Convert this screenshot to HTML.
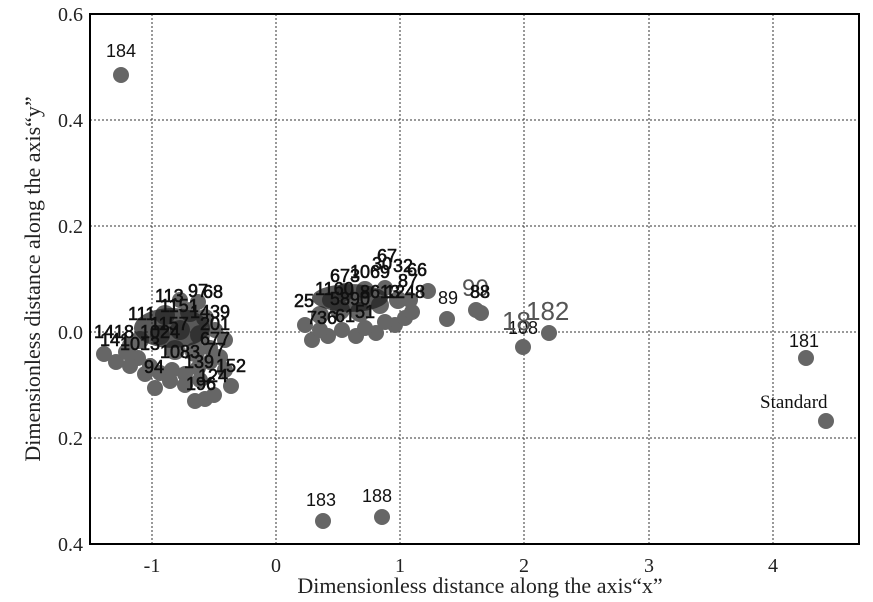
<!DOCTYPE html>
<html><head><style>
html,body{margin:0;padding:0;background:#fff;}
svg{display:block;}
.s{font-family:"Liberation Serif",serif;}
.n{font-family:"Liberation Sans",sans-serif;font-size:18px;fill:#111;}
.d{font-family:"Liberation Sans",sans-serif;font-size:18px;fill:#111;stroke:#111;stroke-width:0.6;}
</style></head><body>
<svg width="873" height="602" viewBox="0 0 873 602" xmlns="http://www.w3.org/2000/svg">
<g stroke="#333" stroke-width="1" stroke-dasharray="2,2">
<line x1="152" y1="14" x2="152" y2="544"/><line x1="276" y1="14" x2="276" y2="544"/>
<line x1="400" y1="14" x2="400" y2="544"/><line x1="524" y1="14" x2="524" y2="544"/>
<line x1="649" y1="14" x2="649" y2="544"/><line x1="773" y1="14" x2="773" y2="544"/>
<line x1="90" y1="120" x2="859" y2="120"/><line x1="90" y1="226" x2="859" y2="226"/>
<line x1="90" y1="332" x2="859" y2="332"/><line x1="90" y1="438" x2="859" y2="438"/>
</g>
<rect x="90" y="14" width="769" height="530" fill="none" stroke="#000" stroke-width="2"/>
<g class="s" font-size="20" fill="#222" text-anchor="end">
<text x="83" y="21">0.6</text><text x="83" y="127">0.4</text><text x="83" y="233">0.2</text>
<text x="83" y="339">0.0</text><text x="83" y="445">0.2</text><text x="83" y="551">0.4</text>
</g>
<g class="s" font-size="20" fill="#222" text-anchor="middle">
<text x="152" y="572">-1</text><text x="276" y="572">0</text><text x="400" y="572">1</text>
<text x="524" y="572">2</text><text x="649" y="572">3</text><text x="773" y="572">4</text>
<text x="480" y="593" font-size="22">Dimensionless distance along the axis“x”</text>
<text transform="translate(40,279) rotate(-90)" font-size="22">Dimensionless distance along the axis“y”</text>
</g>
<g fill="#666">
<circle cx="121" cy="75" r="8"/>
<circle cx="806" cy="358" r="8"/><circle cx="826" cy="421" r="8"/>
<circle cx="323" cy="521" r="8"/><circle cx="382" cy="517" r="8"/>
<circle cx="523" cy="347" r="8"/><circle cx="549" cy="333" r="8"/>
<circle cx="447" cy="319" r="8"/><circle cx="476" cy="310" r="8"/><circle cx="481" cy="313" r="8"/>
<circle cx="428" cy="291" r="8"/>
<circle cx="104" cy="354" r="8"/><circle cx="116" cy="362" r="8"/><circle cx="126" cy="352" r="8"/>
<circle cx="138" cy="358" r="8"/><circle cx="150" cy="366" r="8"/><circle cx="160" cy="373" r="8"/>
<circle cx="172" cy="370" r="8"/><circle cx="185" cy="374" r="8"/><circle cx="198" cy="368" r="8"/>
<circle cx="210" cy="362" r="8"/><circle cx="220" cy="357" r="8"/><circle cx="155" cy="388" r="8"/>
<circle cx="195" cy="401" r="8"/><circle cx="205" cy="399" r="8"/><circle cx="214" cy="395" r="8"/>
<circle cx="231" cy="386" r="8"/><circle cx="185" cy="385" r="8"/><circle cx="170" cy="381" r="8"/>
<circle cx="145" cy="374" r="8"/><circle cx="130" cy="366" r="8"/><circle cx="225" cy="370" r="8"/>
<circle cx="200" cy="380" r="8"/>
<circle cx="140" cy="340" r="9"/><circle cx="160" cy="335" r="10"/><circle cx="180" cy="330" r="10"/>
<circle cx="200" cy="335" r="10"/><circle cx="215" cy="330" r="8"/><circle cx="225" cy="340" r="8"/>
<circle cx="165" cy="315" r="10"/><circle cx="190" cy="312" r="10"/><circle cx="205" cy="318" r="9"/>
<circle cx="175" cy="350" r="10"/><circle cx="195" cy="352" r="10"/><circle cx="210" cy="348" r="8"/>
<circle cx="180" cy="300" r="8"/><circle cx="198" cy="302" r="8"/><circle cx="130" cy="345" r="8"/>
<circle cx="305" cy="325" r="8"/><circle cx="312" cy="340" r="8"/><circle cx="328" cy="336" r="8"/>
<circle cx="342" cy="330" r="8"/><circle cx="356" cy="336" r="8"/><circle cx="376" cy="333" r="8"/>
<circle cx="395" cy="325" r="8"/><circle cx="405" cy="318" r="8"/><circle cx="412" cy="312" r="8"/>
<circle cx="320" cy="330" r="8"/><circle cx="365" cy="328" r="8"/><circle cx="385" cy="322" r="8"/>
<circle cx="410" cy="300" r="8"/>
<circle cx="320" cy="315" r="9"/><circle cx="340" cy="310" r="10"/><circle cx="360" cy="312" r="10"/>
<circle cx="380" cy="305" r="9"/><circle cx="398" cy="300" r="9"/><circle cx="345" cy="292" r="9"/>
<circle cx="365" cy="290" r="9"/><circle cx="385" cy="288" r="8"/><circle cx="330" cy="300" r="8"/>
</g>
<g fill="#222" opacity="0.75">
<ellipse cx="172" cy="328" rx="38" ry="20"/>
<ellipse cx="350" cy="298" rx="38" ry="14"/>
</g>
<g class="n">
<text x="106" y="57">184</text><text x="789" y="347">181</text>
<text x="306" y="506">183</text><text x="362" y="502">188</text>
<text x="438" y="304">89</text><text x="508" y="334">108</text>
</g>
<text x="502" y="330" font-family="Liberation Sans,sans-serif" font-size="26" fill="#555">18</text>
<text x="526" y="320" font-family="Liberation Sans,sans-serif" font-size="26" fill="#555">182</text>
<text x="462" y="296" font-family="Liberation Sans,sans-serif" font-size="24" fill="#555">90</text>
<g class="d">
<text x="470" y="298">88</text>
<text x="216" y="372">152</text><text x="144" y="373">94</text><text x="186" y="390">196</text><text x="198" y="382">124</text>
<text x="184" y="368">139</text><text x="160" y="358">1083</text>
<text x="94" y="338">1418</text><text x="100" y="346">141</text>
<text x="155" y="302">113</text><text x="188" y="297">97</text><text x="203" y="298">68</text>
<text x="128" y="320">111</text><text x="140" y="338">1024</text><text x="150" y="330">1157</text>
<text x="160" y="312">1151</text><text x="190" y="318">1439</text><text x="200" y="330">201</text>
<text x="120" y="350">1013</text><text x="200" y="345">677</text><text x="205" y="356">77</text>
<text x="294" y="307">25</text><text x="307" y="324">736</text><text x="335" y="322">61</text><text x="355" y="318">51</text>
<text x="377" y="262">67</text><text x="372" y="270">30</text><text x="393" y="272">32</text><text x="407" y="276">66</text>
<text x="398" y="287">87</text><text x="315" y="295">1160</text><text x="330" y="282">673</text><text x="350" y="278">1069</text>
<text x="330" y="305">5890</text><text x="360" y="298">8613</text><text x="385" y="298">1248</text>
</g>
<text x="760" y="408" class="s" font-size="19" fill="#111">Standard</text>
</svg>
</body></html>
